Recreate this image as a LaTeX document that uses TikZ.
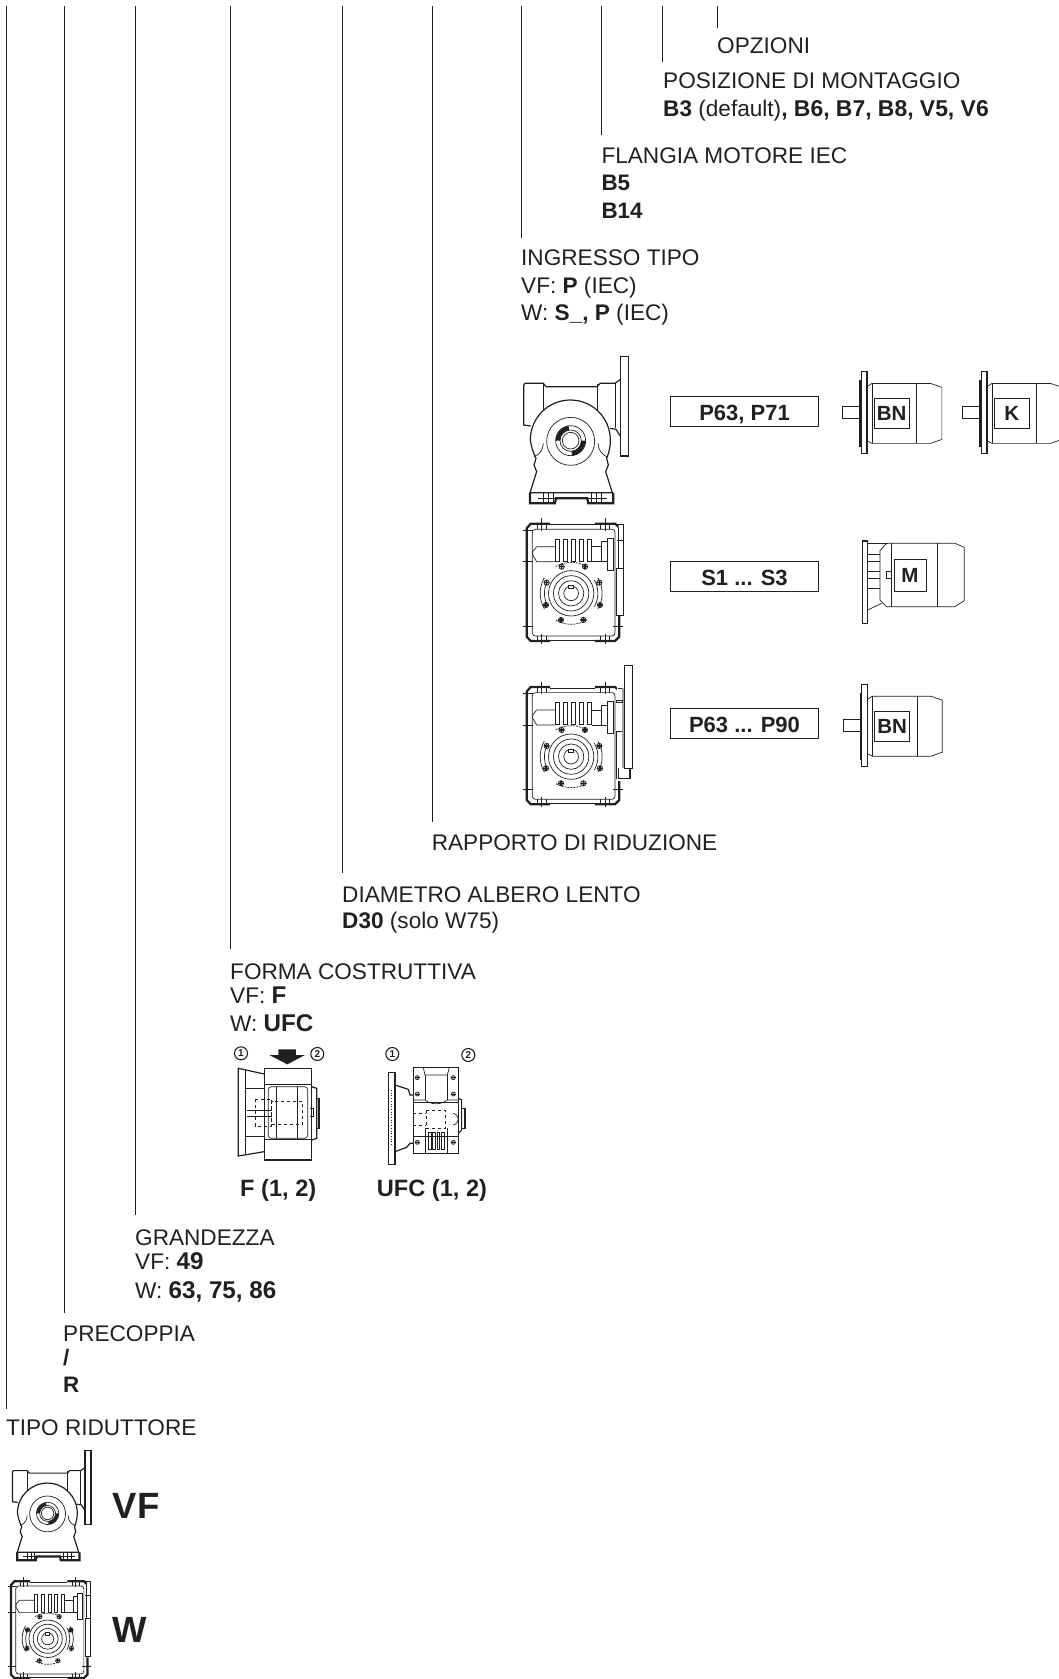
\documentclass[tikz,border=0pt]{standalone}
\usepackage{fontspec}
\setmainfont{Liberation Sans}
\usepackage{xcolor}
\definecolor{ink}{HTML}{231F20}
\newcommand{\wideb}[1]{{\fontsize{24.2}{26}\selectfont\bfseries #1}}
\newcommand{\midb}[1]{{\fontsize{22.9}{26}\selectfont\bfseries #1}}
\tikzset{
  lbl/.style={anchor=base west,inner sep=0pt,text=ink,font=\fontsize{22.6}{26}\selectfont},
  boldlbl/.style={lbl,font=\fontsize{22.4}{26}\selectfont\bfseries},
  formlbl/.style={lbl,font=\fontsize{23.6}{26}\selectfont\bfseries},
  biglbl/.style={lbl,font=\fontsize{36.5}{40}\selectfont\bfseries},
  vline/.style={draw=ink,line width=.8pt},
  codebox/.style={draw=ink,line width=.8pt,minimum width=147.5pt,minimum height=29.5pt,inner sep=0pt,
    text height=18pt,text depth=0pt,text=ink,font=\fontsize{22}{26}\selectfont\bfseries},
  motortag/.style={inner sep=0pt,text=ink,font=\fontsize{20.5}{24}\selectfont\bfseries},
  numdot/.style={circle,draw=ink,line width=1.1pt,inner sep=0pt,minimum size=13pt,text=ink,
    font=\fontsize{10}{10}\selectfont\bfseries},
  hair/.style={draw=ink,line width=.4pt},
  thin line/.style={draw=ink,line width=.7pt},
  mid line/.style={draw=ink,line width=1.2pt},
  heavy line/.style={draw=ink,line width=2.2pt},
  stub/.style={dash pattern=on 2pt off 1pt},
  vfbox/.pic={
    % flange and casing
    \draw[mid line] (332,20) rectangle (356,318);
    \draw[mid line] (62,228) -- (41,225) -- (41,105) -- (45,100) -- (100,100) -- (108,110) -- (262,110) -- (270,100) -- (315,100) -- (332,88);
    \draw[thin line] (100,103) -- (100,190);
    \draw[thin line] (262,103) -- (262,190);
    \draw[thin line] (315,100) -- (315,235);
    \draw[mid line] (300,235) -- (318,238) -- (332,260);
    % worm wheel cover
    \draw[mid line,fill=white] (61,270) arc[start angle=180,end angle=360,radius=120]
      .. controls (301,290) and (298,305) .. (290,325) -- (295,345) -- (287,365) -- (307,428)
      -- (60,428) -- (80,365) -- (72,345) -- (78,325)
      .. controls (68,305) and (64,290) .. cycle;
    \draw[thin line] (100,280) .. controls (98,300) and (92,312) .. (72,320);
    \draw[thin line] (264,280) .. controls (266,300) and (272,312) .. (294,322);
    \draw[thin line,fill=white] (182,274) circle[radius=72];
    \draw[thin line] (182,272) circle[radius=45];
    \draw[thin line] (182,272) circle[radius=32];
    \draw[thin line] (182,272) circle[radius=25];
    \fill[ink] (137,272) arc[start angle=180,end angle=262,radius=45] -- (177.5,240.3) arc[start angle=262,end angle=180,radius=32] -- cycle;
    \fill[ink] (227,272) arc[start angle=0,end angle=85,radius=45] -- (184.8,303.9) arc[start angle=85,end angle=0,radius=32] -- cycle;
    % foot
    \draw[heavy line] (60,428) -- (60,460) -- (135,460) -- (138,445) -- (232,445) -- (235,460) -- (310,460) -- (310,428);
    \draw[mid line] (60,428) -- (310,428);
    \foreach \fx in {100,115,130,245,260,275}
      \draw[hair] (\fx,428) -- (\fx,460);
    \draw[hair] (85,444) -- (136,444);
    \draw[hair] (234,444) -- (290,444);
  },
  wbox/.pic={
    % casing
    \draw[heavy line] (150,41) -- (92,41) -- (80,55) -- (80,380) -- (92,393) -- (150,393);
    \draw[heavy line] (285,393) -- (345,393) -- (358,380) -- (358,318);
    \draw[heavy line] (285,41) -- (345,41) -- (355,50);
    \draw[thin line] (150,44) -- (285,44);
    \draw[thin line] (150,390) -- (285,390);
    \draw[thin line,rounded corners=3pt] (97,58) rectangle (345,378);
    \draw[thin line] (355,50) -- (355,175);
    \draw[thin line] (350,42) -- (370,42) -- (370,315) -- (350,315) -- (350,175) -- (370,175);
    \draw[thin line] (350,92) -- (370,92);
    % centre marks
    \foreach \mx in {125,315}{
      \draw[hair] (\mx,25) -- (\mx,62);
      \draw[hair] (\mx,372) -- (\mx,402);
      \draw[hair] (\mx-13,42) -- (\mx-13,58);
      \draw[hair] (\mx+13,42) -- (\mx+13,58);
      \draw[hair] (\mx-13,378) -- (\mx-13,392);
      \draw[hair] (\mx+13,378) -- (\mx+13,392);
    }
    \foreach \my in {60,155,348}
      \draw[hair] (70,\my) -- (100,\my);
    \draw[hair] (340,348) -- (370,348);
    % worm
    \draw[thin line] (165,110) -- (110,110) -- (98,125) -- (98,135) -- (110,155) -- (165,155);
    \foreach \fx in {165,190,215,238,262}
      \draw[thin line] (\fx,88) rectangle +(12,66);
    \draw[thin line] (275,110) -- (305,110);
    \draw[thin line] (275,155) -- (305,155);
    \draw[thin line] (305,95) rectangle (322,155);
    \draw[thin line] (322,85) rectangle (340,180);
    % cover
    \fill[white] (213.5,250) circle[radius=93];
    \draw[thin line] (133,203.5) arc[start angle=-150,end angle=-210,radius=93];
    \draw[thin line] (294,203.5) arc[start angle=-30,end angle=30,radius=93];
    \draw[thin line] (144,210) arc[start angle=-150,end angle=-210,radius=80];
    \draw[thin line] (283,210) arc[start angle=-30,end angle=30,radius=80];
    \draw[thin line,stub] (167,169.5) arc[start angle=240,end angle=300,radius=93];
    \draw[thin line,stub] (260,330.5) arc[start angle=60,end angle=120,radius=93];
    \foreach \ringr in {68,53,38,22}
      \draw[thin line] (213.5,250) circle[radius=\ringr];
    \draw[thin line,fill=white] (206,227) rectangle (221,236);
    \foreach \bx/\by in {185/170,255/170,140/218,298/218,138/285,300/285,183/330,250/330}{
      \draw[thin line,fill=gray!50] (\bx,\by) circle[radius=8];
      \draw[mid line] (\bx-7,\by) -- (\bx+7,\by);
      \draw[mid line] (\bx,\by-7) -- (\bx,\by+7);
    }
  },
  wplate/.pic={
    \fill[white] (350,41) rectangle (372,322);
    \draw[mid line] (373,-23) rectangle (398,285);
    \draw[thin line] (355,45) -- (373,45);
    \draw[line width=1.6pt,draw=gray!70] (369,45) -- (369,285);
    \draw[thin line] (350,175) -- (350,315);
    \draw[thin line] (350,175) -- (366,175);
    \draw[thin line] (350,80) rectangle (366,88);
    \draw[mid line] (356,285) -- (356,315) -- (390,315) -- (390,285);
  },
  motorbox/.pic={
    \draw[thin line] (1013,202) -- (957,202) -- (957,238) -- (1013,238);
    \fill[ink] (1007,122) rectangle (1013,322);
    \draw[mid line] (1013,97) rectangle (1030,343);
    \draw[thin line] (1030,142) -- (1045,132) -- (1221,132) -- (1255,144) -- (1255,300) -- (1221,312) -- (1045,312) -- (1030,304);
    \draw[thin line] (1045,132) -- (1045,312);
    \draw[thin line] (1179,132) -- (1179,312);
    \draw[thin line] (1052,176) rectangle (1157,268);
    \node[motortag] (-tag) at (1104.5,222) {\tikzpictext};
  },
  lanternmotor/.pic={
    \draw[mid line] (1087,93) rectangle (1103,340);
    \draw[thin line] (1103,100) -- (1165,100);
    \draw[thin line] (1103,300) -- (1145,280);
    \draw[thin line] (1175,100) -- (1160,100) -- (1140,122) -- (1140,270) -- (1160,290) -- (1365,290) -- (1393,272) -- (1393,112) -- (1365,100) -- (1175,100);
    \draw[thin line] (1175,100) -- (1175,290);
    \draw[thin line] (1312,100) -- (1312,290);
    \foreach \my in {132,155,185,205,235}
      \draw[thin line] (1103,\my) -- (1140,\my);
    \draw[thin line] (1160,185) rectangle (1175,205);
    \draw[thin line] (1182,148) rectangle (1278,243);
    \node[motortag] (-tag) at (1230,196) {\tikzpictext};
  },
  fbox/.pic={
    \fill[ink] (205,58) -- (258,58) -- (258,75) -- (285,75) -- (232,103) -- (178,75) -- (205,75) -- cycle;
    \draw[mid line] (163,132) -- (85,115) -- (85,378) -- (163,365);
    \draw[thin line] (105,120) -- (105,373);
    \draw[thin line] (105,175) -- (163,175);
    \draw[thin line] (105,320) -- (163,320);
    \draw[mid line] (163,115) rectangle (305,390);
    \draw[thin line] (163,163) -- (305,163);
    \draw[thin line] (163,327) -- (305,327);
    \draw[thin line,rounded corners=3pt] (175,170) rectangle (293,325);
    \draw[thin line] (200,170) -- (200,325);
    \draw[thin line] (263,170) -- (263,325);
    \draw[mid line] (305,170) -- (320,175) -- (320,325) -- (305,330);
    \draw[mid line] (320,205) -- (327,205) -- (327,295) -- (320,295);
    \draw[thin line,dashed] (185,213) rectangle (278,283);
    \draw[thin line,dashed] (135,208) rectangle (185,288);
    \draw[thin line] (110,240) -- (185,240);
    \draw[thin line] (110,258) -- (185,258);
    \draw[thin line] (300,235) -- (310,235) -- (310,260) -- (300,260);
  },
  ufcbox/.pic={
    \draw[mid line] (535,128) rectangle (555,403);
    \draw[thin line,dotted] (543,180) -- (543,350);
    \draw[mid line] (555,165) -- (595,178) -- (600,195) -- (610,195);
    \draw[mid line] (555,365) -- (590,352) -- (600,340) -- (610,340);
    \draw[mid line] (610,113) rectangle (745,370);
    \draw[thin line] (640,113) -- (645,135) -- (712,135) -- (718,113);
    \draw[thin line] (645,135) -- (645,210);
    \draw[thin line] (712,135) -- (712,210);
    \draw[thin line] (610,210) -- (645,210) .. controls (665,225) and (692,225) .. (712,210) -- (745,210);
    \draw[thin line] (610,218) -- (745,218);
    \draw[thin line] (610,320) -- (745,320);
    \draw[thin line,dashed] (648,240) rectangle (705,295);
    \draw[thin line,dashed] (610,250) -- (648,250);
    \draw[thin line,dashed] (610,285) -- (648,285);
    \draw[thin line] (645,295) -- (645,370);
    \draw[thin line] (712,295) -- (712,370);
    \draw[mid line] (745,205) -- (755,210) -- (755,300) -- (745,310);
    \draw[mid line] (755,235) -- (765,235) -- (765,295) -- (755,295);
    \draw[thin line] (730,250) .. controls (750,255) and (750,280) .. (730,285);
    \foreach \fx in {655,668,681,694}
      \draw[thin line] (\fx,308) rectangle +(8,50);
    \foreach \bx/\by in {622/143,730/143,622/192,730/192,622/337,730/337}{
      \draw[thin line,fill=gray!50] (\bx,\by) circle[radius=6];
      \draw[thin line] (\bx-7,\by) -- (\bx+7,\by);
    }
  },
}

\begin{document}
\begin{tikzpicture}[x=1pt,y=-1pt]
  \useasboundingbox (0,0) rectangle (1059,1679);

  % labels, from the bottom up
  \node[lbl] (tipo) at (5.8,1435) {TIPO RIDUTTORE};
  \node[lbl] (precoppia) at (63,1341) {PRECOPPIA};
  \node[boldlbl] (precoppiaA) at (63,1365) {/};
  \node[boldlbl] (precoppiaB) at (63,1392.7) {R};
  \node[lbl] (grandezza) at (135,1245) {GRANDEZZA};
  \node[lbl] (grandezzaA) at (135,1269) {VF: \wideb{49}};
  \node[lbl] (grandezzaB) at (135,1298.3) {W: \wideb{63, 75, 86}};
  \node[lbl] (forma) at (230,979.3) {FORMA COSTRUTTIVA};
  \node[lbl] (formaA) at (230,1003.3) {VF: \wideb{F}};
  \node[lbl] (formaB) at (230,1031) {W: \wideb{UFC}};
  \node[lbl] (diametro) at (342,902.7) {DIAMETRO ALBERO LENTO};
  \node[lbl] (diametroA) at (342,928.3) {\textbf{D30} (solo W75)};
  \node[lbl] (rapporto) at (431.6,850) {RAPPORTO DI RIDUZIONE};
  \node[lbl] (ingresso) at (521,265) {INGRESSO TIPO};
  \node[lbl] (ingressoA) at (521,293) {VF: \textbf{P} (IEC)};
  \node[lbl] (ingressoB) at (521,320) {W: \textbf{S\_, P} (IEC)};
  \node[lbl] (flangia) at (601.3,163) {FLANGIA MOTORE IEC};
  \node[boldlbl] (flangiaA) at (601.3,190) {B5};
  \node[boldlbl] (flangiaB) at (601.3,218.3) {B14};
  \node[lbl] (posizione) at (663,88) {POSIZIONE DI MONTAGGIO};
  \node[lbl] (posizioneA) at (663,116.7) {\textbf{B3} (default)\midb{, B6, B7, B8, V5, V6}};
  \node[lbl] (opzioni) at (717,53) {OPZIONI};

  % vertical leaders
  \foreach \lname/\lx/\lgap in {tipo/6/10,precoppia/64.7/12,grandezza/135/14,forma/230.7/14,
      diametro/342.7/14,rapporto/432.3/12,ingresso/521.7/11,flangia/601.7/12,posizione/662.7/10,opzioni/717.7/9}{
    \coordinate (top\lname) at (\lx,6);
    \draw[vline,shorten >=\lgap pt] (top\lname) -- (top\lname |- \lname.north);
  }

  % input codes
  \node[codebox] (codeA) at (744.5,411.3) {P63, P71};
  \node[codebox] (codeB) at (744.5,576.2) {S1 ... S3};
  \node[codebox] (codeC) at (744.5,723.5) {P63 ... P90};

  % gearboxes and motors
  \pic[scale=.3333] (vfA) at (510,350) {vfbox};
  \pic[scale=.3333,pic text=BN] (motorA) at (523.6,339.4) {motorbox};
  \pic[scale=.3333,pic text=K] (motorB) at (643.6,339.4) {motorbox};
  \pic[scale=.3333] (wA) at (500,510) {wbox};
  \pic[scale=.3333,pic text=M] (motorC) at (500,510) {lanternmotor};
  \pic[scale=.3333] (wB) at (500,673.3) {wbox};
  \pic[scale=.3333] (wC) at (500,673.3) {wplate};
  \pic[scale=.3333,pic text=BN] (motorD) at (524,652.2) {motorbox};

  % mounting forms
  \pic[scale=.3333] (formF) at (210,1030) {fbox};
  \pic[scale=.3333] (formU) at (210,1030) {ufcbox};
  \node[numdot] (numA) at (241,1053.3) {1};
  \node[numdot] (numB) at (317.3,1054) {2};
  \node[numdot] (numC) at (392.3,1054) {1};
  \node[numdot] (numD) at (468.3,1055) {2};
  \node[formlbl] (formaF) at (240,1196.7) {F (1, 2)};
  \node[formlbl] (formaU) at (376.7,1196.7) {UFC (1, 2)};

  % gearbox types
  \pic[scale=.249] (vfB) at (2.3,1445.7) {vfbox};
  \node[biglbl] (tipoA) at (112.7,1518.3) {VF};
  \pic[scale=.275] (wD) at (-11,1570) {wbox};
  \node[biglbl] (tipoB) at (112.7,1642.3) {W};
\end{tikzpicture}
\end{document}
